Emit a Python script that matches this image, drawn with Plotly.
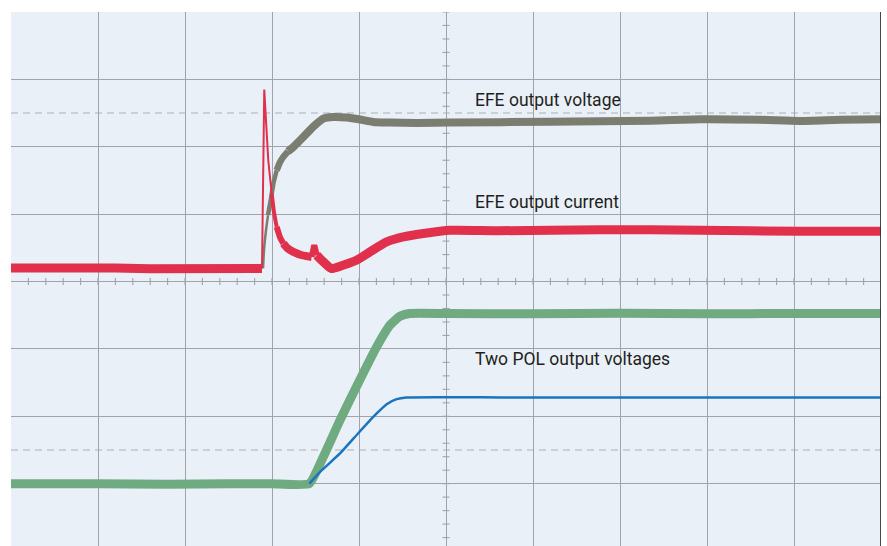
import plotly.graph_objects as go

# Screen divisions: 10 horizontal x 8 vertical, centre at (5, 0)
X_DIVS = 10
Y_TOP = 4
Y_BOTTOM = -3.925

# EFE output current (red) — time in divisions, level in divisions
current_t = [0.0, 0.6, 1.2, 1.6, 2.0, 2.5, 2.885,
             2.911, 2.957, 2.997,
             3.023, 3.054, 3.092, 3.130,
             3.184, 3.245, 3.345, 3.456, 3.486, 3.514, 3.600, 3.683, 3.816, 3.970,
             4.126, 4.318, 4.510, 4.739, 5.046, 5.620, 6.770, 7.920, 9.070, 10.0]
current_v = [0.20, 0.21, 0.20, 0.19, 0.20, 0.19, 0.193,
             2.85, 1.80, 1.30,
             1.028, 0.81, 0.657, 0.564,
             0.487, 0.44, 0.39, 0.365, 0.54, 0.39, 0.28, 0.193, 0.242, 0.316,
             0.44, 0.588, 0.662, 0.712, 0.761, 0.754, 0.770, 0.761, 0.746, 0.746]
# (last index of segment, line width) — trace is thin through the spike, then thickens
current_segments = [(6, 9), (9, 2), (11, 4), (13, 6), (17, 8), (19, 6), (33, 9)]

# EFE output voltage (grey)
voltage_t = [2.897, 2.908, 2.931, 2.954, 2.985, 3.017, 3.054, 3.092, 3.130,
             3.184, 3.245, 3.360, 3.471, 3.590, 3.705, 3.860, 4.011, 4.164,
             4.356, 4.663, 5.046, 6.195, 7.345, 7.920, 8.610, 9.070, 9.530, 10.0]
voltage_v = [0.197, 0.464, 0.761, 0.984, 1.206, 1.458, 1.651, 1.770, 1.849,
             1.933, 1.997, 2.145, 2.294, 2.418, 2.442, 2.433, 2.404, 2.368,
             2.359, 2.353, 2.359, 2.371, 2.386, 2.408, 2.400, 2.383, 2.400, 2.408]
voltage_segments = [(3, 2.5), (6, 4.5), (9, 6.5), (27, 8)]

# POL output voltage 1 (green)
pol1_t = [0.0, 1.0, 1.8, 2.5, 3.0, 3.429, 3.590, 3.782, 3.989, 4.203, 4.356,
          4.471, 4.586, 5.008, 6.0, 7.0, 8.0, 9.0, 10.0]
pol1_v = [-3.0, -3.0, -3.01, -3.0, -3.0, -3.0, -2.602, -2.058, -1.513, -0.970,
          -0.648, -0.515, -0.475, -0.475, -0.478, -0.472, -0.478, -0.475, -0.475]

# POL output voltage 2 (blue)
pol2_t = [3.429, 3.552, 3.782, 3.989, 4.203, 4.318, 4.433, 4.545, 5.620, 7.0, 8.5, 10.0]
pol2_v = [-3.0, -2.825, -2.552, -2.255, -1.958, -1.820, -1.746, -1.721,
          -1.720, -1.722, -1.720, -1.720]

labels = [
    ("EFE output voltage", 5.31, 2.69),
    ("EFE output current", 5.31, 1.177),
    ("Two POL output voltages", 5.31, -1.153),
]

RED = "#E0304B"
GREY = "#7B7D70"
GREEN = "#70AA80"
BLUE = "#1B74BE"
GRID = "#A2A3AA"
DASH = "#C2C3CB"
BG = "#E9F0F8"

fig = go.Figure()


def add_segments(t, v, segments, color, sharp=()):
    start = 0
    for k, (end, width) in enumerate(segments):
        shape = "linear" if k in sharp else "spline"
        fig.add_trace(go.Scatter(
            x=t[start:end + 1], y=v[start:end + 1], mode="lines",
            line=dict(color=color, width=width, shape=shape, smoothing=0.6),
            hoverinfo="skip", showlegend=False))
        start = end


fig.add_trace(go.Scatter(x=pol1_t, y=pol1_v, mode="lines",
                         line=dict(color=GREEN, width=9, shape="spline", smoothing=0.4),
                         showlegend=False, hoverinfo="skip"))
fig.add_trace(go.Scatter(x=pol2_t, y=pol2_v, mode="lines",
                         line=dict(color=BLUE, width=2.5, shape="spline", smoothing=0.4),
                         showlegend=False, hoverinfo="skip"))
add_segments(voltage_t, voltage_v, voltage_segments, GREY)
add_segments(current_t, current_v, current_segments, RED, sharp=(0, 1, 5))

shapes = []
# dashed reference levels
for yl in (2.5, -2.5):
    shapes.append(dict(type="line", xref="x", yref="y", x0=0, x1=X_DIVS, y0=yl, y1=yl,
                       line=dict(color=DASH, width=1.5, dash="7px,5px"), layer="below"))
# minor ticks on the centre cross
hx = 3.5 / 87.0
hy = 3.5 / 67.4
for i in range(1, 50):
    xt = i * 0.2
    shapes.append(dict(type="line", xref="x", yref="y", x0=xt, x1=xt, y0=-hy, y1=hy,
                       line=dict(color=GRID, width=1.1), layer="below"))
for i in range(-20, 21):
    yt = i * 0.2
    if yt < Y_BOTTOM or yt > Y_TOP:
        continue
    shapes.append(dict(type="line", xref="x", yref="y", x0=5 - hx, x1=5 + hx, y0=yt, y1=yt,
                       line=dict(color=GRID, width=1.1), layer="below"))
# right frame edge
shapes.append(dict(type="line", xref="x", yref="paper", x0=X_DIVS, x1=X_DIVS, y0=0, y1=1,
                   line=dict(color="#333333", width=1.8)))

annotations = [dict(text=txt, x=xa, y=ya, xref="x", yref="y", xanchor="left",
                    yanchor="middle", showarrow=False,
                    font=dict(family="Roboto", size=17.5, color="#231F20"))
               for txt, xa, ya in labels]

fig.update_layout(
    width=887, height=546,
    margin=dict(l=11, r=6, t=12, b=0),
    paper_bgcolor="white", plot_bgcolor=BG,
    shapes=shapes, annotations=annotations,
    xaxis=dict(range=[0, X_DIVS], dtick=1, tick0=0, showgrid=True, gridcolor=GRID,
               gridwidth=1.1, zeroline=False, showticklabels=False, ticks="",
               fixedrange=True),
    yaxis=dict(range=[Y_BOTTOM, Y_TOP], dtick=1, tick0=0, showgrid=True, gridcolor=GRID,
               gridwidth=1.1, zeroline=False, showticklabels=False, ticks="",
               fixedrange=True),
)

fig.write_html("out.html")
